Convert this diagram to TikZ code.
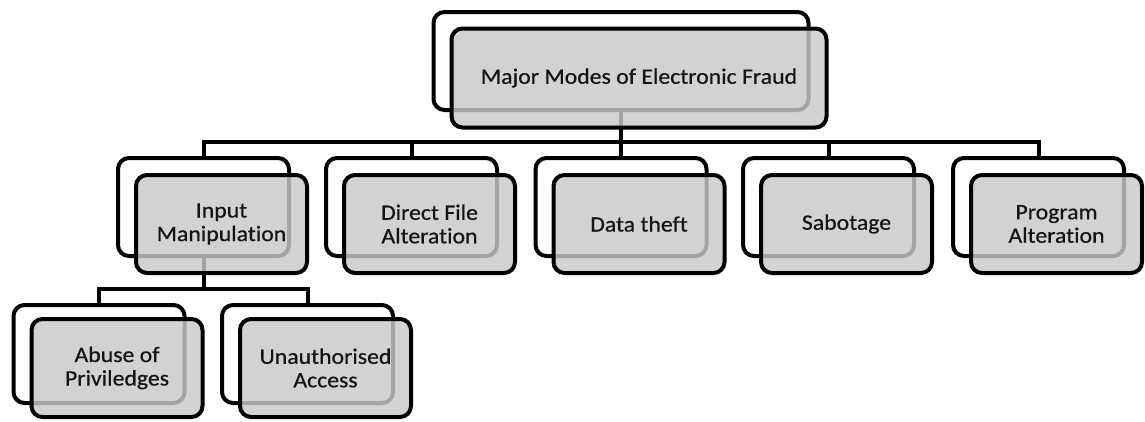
\documentclass[tikz,border=0pt]{standalone}
\usepackage{fontspec}
\setmainfont{Carlito}[FakeStretch=1.08, FakeBold=0.6, Ligatures=NoCommon]
\begin{document}
\begin{tikzpicture}[x=1pt,y=-1pt,
  line width=4pt,
  backbox/.style={draw=black, fill=white, rounded corners=11pt,
    minimum width=171pt, minimum height=98pt, inner sep=0pt},
  frontbox/.style={draw=black, fill=black!21, fill opacity=0.82,
    text opacity=1, text=black!92, rounded corners=11pt,
    minimum width=171pt, minimum height=98pt, inner sep=0pt,
    align=center, font=\fontsize{22}{23.5}\selectfont},
  link/.style={draw=black, line width=4pt}
]
\useasboundingbox (0,0) rectangle (1145,421);

% bus levels
\coordinate (busA) at (0,142);
\coordinate (busB) at (0,289);

% back plates
\node[backbox, minimum width=375pt, minimum height=98pt] (rootb) at (621,61) {};
\node[backbox] (inb)   at (203.5,207) {};
\node[backbox] (dfb)   at (411.5,207) {};
\node[backbox] (dtb)   at (621,207) {};
\node[backbox] (sabb)  at (828.5,207) {};
\node[backbox] (pab)   at (1038.5,207) {};
\node[backbox] (abb)   at (99,354) {};
\node[backbox] (uab)   at (307.5,354) {};

% connectors
\draw[link] (rootb.south) -- (rootb.south |- busA);
\draw[link] (inb.north) |- (pab.north |- busA) -- (pab.north);
\draw[link] (dfb.north) -- (dfb.north |- busA);
\draw[link] (dtb.north) -- (dtb.north |- busA);
\draw[link] (sabb.north) -- (sabb.north |- busA);
\draw[link] (inb.south) -- (inb.south |- busB);
\draw[link] (abb.north) |- (uab.north |- busB) -- (uab.north);

% front plates with labels
\node[frontbox, minimum width=375pt, minimum height=99pt] (rootf) at (639,78) {Major Modes of Electronic Fraud};
\node[frontbox] (inf)  at (221.5,224) {Input\\Manipulation};
\node[frontbox] (dff)  at (429.5,224) {Direct File\\Alteration};
\node[frontbox] (dtf)  at (639,224) {Data theft};
\node[frontbox] (sabf) at (846.5,224) {Sabotage};
\node[frontbox] (paf)  at (1056.5,224) {Program\\Alteration};
\node[frontbox] (abf)  at (117,368) {Abuse of\\Priviledges};
\node[frontbox] (uaf)  at (325.5,368) {Unauthorised\\Access};
\end{tikzpicture}
\end{document}
